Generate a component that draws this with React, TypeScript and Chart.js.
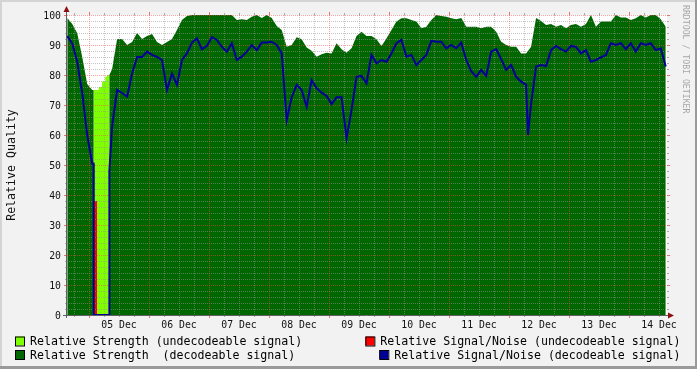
import React, { useEffect, useRef } from "react";
import { Chart, registerables } from "chart.js";

Chart.register(...registerables);

const W = 697;
const H = 369;

// time axis: hours since 04 Dec 00:00
const X_MIN = 15.2;
const X_MAX = 255.2;
const START_HOUR = 15.3;
const STEP_HOURS = 1.995;

const DAY_LABELS = ["05 Dec", "06 Dec", "07 Dec", "08 Dec", "09 Dec", "10 Dec", "11 Dec", "12 Dec", "13 Dec", "14 Dec"];
const DAY_LABEL_HOURS = [36, 60, 84, 108, 132, 156, 180, 204, 228, 252];
const Y_TICKS = [0, 10, 20, 30, 40, 50, 60, 70, 80, 90, 100];

// Relative Strength (decodeable signal), regular samples
const strengthDecodeable = [
  99, 97, 93.9, 86, 77, 75, 0, 0, 0, 82,
  92, 92, 90, 91, 94, 92, 93, 93.7, 91, 90,
  91, 92, 95, 98.3, 99.7, 100, 100, 100, 100, 100,
  100, 100, 100, 100, 98.3, 98.6, 98.3, 99.4, 100, 99,
  100, 99, 96.3, 95, 89.4, 90, 92.6, 91.9, 89.2, 88.1,
  86.1, 86.9, 87.4, 87.2, 90.6, 88.6, 87.4, 88.9, 93, 94.4,
  93, 93, 91.9, 89.7, 92.2, 95, 97.8, 98.9, 98.9, 98.3,
  97.8, 95.6, 96.1, 98.3, 100, 99.7, 99.4, 98.9, 98.6, 99,
  96.1, 96.1, 96.1, 95.6, 96.1, 96.1, 94.4, 91.1, 90, 89.4,
  89.4, 87.2, 87.2, 89.4, 99, 98, 96.7, 97, 96.1, 96.7,
  95.6, 96.7, 97, 96.1, 97, 100, 96.1, 97.8, 97.8, 97.8,
  100, 99.2, 99.2, 98.3, 98.9, 100, 99.2, 100, 100, 98.6,
  96.1,
];

// Relative Signal/Noise (decodeable signal), regular samples
const snDecodeable = [
  93, 90.5, 84.4, 74, 60, 50.5, 0, 0, 0, 63,
  75, 74, 72.8, 80.5, 86, 86, 87.8, 86.7, 86, 85,
  75, 80.5, 76.7, 85, 87.2, 90.8, 92.2, 88.6, 89.7, 92.6,
  91.7, 89.4, 87.8, 90.6, 85, 86.1, 87.8, 90, 88.3, 90.8,
  90.8, 91.1, 90, 87.2, 65, 72.6, 76.7, 75, 69.4, 78.3,
  75.6, 74.1, 73, 70.3, 72.6, 72.6, 58.9, 68.3, 79.4, 79.7,
  77.2, 86.7, 83.9, 85, 84.4, 87.2, 90.6, 91.7, 86.1, 86.7,
  83.3, 85, 86.7, 91.4, 91.1, 91.1, 88.9, 90, 88.9, 90.8,
  85, 81.3, 79.4, 81.7, 79.7, 87.8, 88.6, 85.3, 81.7, 83.3,
  79.4, 77.8, 76.7, 70.5, 82.8, 83.3, 83, 88.3, 89.7, 88.6,
  87.8, 89.7, 89.4, 87.2, 88.3, 84.4, 85, 85.9, 86.7, 90.6,
  90, 90.6, 88.6, 90.6, 87.8, 90.6, 90, 90.6, 88.3, 88.9,
  82.8,
];

// edges of the undecodeable period
const gapHours = [25.85, 25.9, 32.1, 32.15];
const gapStrength = [75, 0, 0, 80];
const gapSn = [50.5, 0, 0, 48];
const dipHours = [199.6];
const dipSn = [60];

// Relative Strength (undecodeable signal)
const undecStrengthHours = [25.9, 27.9, 29.2, 30.5, 31.2, 32.12];
const undecStrength = [75, 76, 77.8, 79.4, 80, 80];
// Relative Signal/Noise (undecodeable signal)
const undecSnHours = [25.9, 27.2];
const undecSn = [38, 38];

const C_STRENGTH_UNDEC = "#80ff00";
const C_STRENGTH_DEC = "#006600";
const C_SN_UNDEC = "#ff0000";
const C_SN_DEC = "#000099";

const MONO = '"DejaVu Sans Mono", monospace';

function regular(values: number[], extraH: number[], extraV: number[]) {
  const pts = values.map((v, i) => ({ x: START_HOUR + i * STEP_HOURS, y: v }));
  extraH.forEach((h, j) => pts.push({ x: h, y: extraV[j] }));
  pts.sort((a, b) => a.x - b.x);
  return pts;
}
function pairs(hours: number[], values: number[]) {
  return hours.map((h, i) => ({ x: h, y: values[i] }));
}

const decor = {
  id: "rrdDecor",
  beforeDraw(chart: any) {
    const ctx = chart.ctx as CanvasRenderingContext2D;
    const a = chart.chartArea;
    ctx.save();
    ctx.fillStyle = "#f2f2f2";
    ctx.fillRect(0, 0, W, H);
    ctx.fillStyle = "#ffffff";
    ctx.fillRect(a.left, a.top, a.right - a.left, a.bottom - a.top);
    ctx.restore();
  },
  beforeDatasetDraw(chart: any, args: any) {
    if (args.index !== 0) return;
    const ctx = chart.ctx as CanvasRenderingContext2D;
    const xs = chart.scales.x;
    const ys = chart.scales.y;
    const a = chart.chartArea;
    ctx.save();
    ctx.lineWidth = 1;
    ctx.setLineDash([1, 1]);
    // minor grid
    ctx.strokeStyle = "rgba(150,150,150,0.55)";
    ctx.beginPath();
    for (let v = 2; v < 100; v += 2) {
      if (v % 10 === 0) continue;
      const y = Math.round(ys.getPixelForValue(v)) + 0.5;
      ctx.moveTo(a.left, y);
      ctx.lineTo(a.right, y);
    }
    for (let h = 18; h < X_MAX; h += 6) {
      if (h % 24 === 0) continue;
      const x = Math.round(xs.getPixelForValue(h)) + 0.5;
      ctx.moveTo(x, a.top);
      ctx.lineTo(x, a.bottom);
    }
    ctx.stroke();
    // major grid
    ctx.strokeStyle = "rgba(255,70,70,0.5)";
    ctx.beginPath();
    for (const v of Y_TICKS) {
      if (v === 0) continue;
      const y = Math.round(ys.getPixelForValue(v)) + 0.5;
      ctx.moveTo(a.left, y);
      ctx.lineTo(a.right, y);
    }
    for (let h = 24; h < X_MAX; h += 24) {
      const x = Math.round(xs.getPixelForValue(h)) + 0.5;
      ctx.moveTo(x, a.top);
      ctx.lineTo(x, a.bottom);
    }
    ctx.stroke();
    ctx.restore();
  },
  afterDatasetsDraw(chart: any) {
    const ctx = chart.ctx as CanvasRenderingContext2D;
    const xs = chart.scales.x;
    const ys = chart.scales.y;
    const a = chart.chartArea;
    ctx.save();
    ctx.setLineDash([]);
    ctx.lineWidth = 1;

    // ticks
    ctx.strokeStyle = "rgba(150,150,150,0.8)";
    ctx.beginPath();
    for (let v = 2; v < 100; v += 2) {
      if (v % 10 === 0) continue;
      const y = Math.round(ys.getPixelForValue(v)) + 0.5;
      ctx.moveTo(a.left - 2, y);
      ctx.lineTo(a.left, y);
      ctx.moveTo(a.right, y);
      ctx.lineTo(a.right + 2, y);
    }
    for (let h = 18; h < X_MAX; h += 6) {
      if (h % 24 === 0) continue;
      const x = Math.round(xs.getPixelForValue(h)) + 0.5;
      ctx.moveTo(x, a.bottom);
      ctx.lineTo(x, a.bottom + 2);
      ctx.moveTo(x, a.top - 2);
      ctx.lineTo(x, a.top);
    }
    ctx.stroke();
    ctx.strokeStyle = "rgba(230,80,80,0.8)";
    ctx.beginPath();
    for (const v of Y_TICKS) {
      const y = Math.round(ys.getPixelForValue(v)) + 0.5;
      ctx.moveTo(a.left - 3, y);
      ctx.lineTo(a.left, y);
      ctx.moveTo(a.right, y);
      ctx.lineTo(a.right + 3, y);
    }
    for (let h = 24; h < X_MAX; h += 24) {
      const x = Math.round(xs.getPixelForValue(h)) + 0.5;
      ctx.moveTo(x, a.bottom);
      ctx.lineTo(x, a.bottom + 3);
      ctx.moveTo(x, a.top - 3);
      ctx.lineTo(x, a.top);
    }
    ctx.stroke();

    // axes
    ctx.strokeStyle = "#606060";
    ctx.beginPath();
    ctx.moveTo(a.left - 0.5, a.bottom + 3);
    ctx.lineTo(a.left - 0.5, a.top - 6);
    ctx.moveTo(a.left - 4, a.bottom + 0.5);
    ctx.lineTo(a.right + 3, a.bottom + 0.5);
    ctx.stroke();
    ctx.fillStyle = "#8b1010";
    ctx.beginPath();
    ctx.moveTo(a.left - 0.5, a.top - 9);
    ctx.lineTo(a.left - 3.5, a.top - 3);
    ctx.lineTo(a.left + 2.5, a.top - 3);
    ctx.closePath();
    ctx.fill();
    ctx.beginPath();
    ctx.moveTo(a.right + 7, a.bottom + 0.5);
    ctx.lineTo(a.right + 1, a.bottom - 2.5);
    ctx.lineTo(a.right + 1, a.bottom + 3.5);
    ctx.closePath();
    ctx.fill();

    // y labels
    ctx.fillStyle = "#111";
    ctx.font = `9.8px ${MONO}`;
    ctx.textAlign = "right";
    ctx.textBaseline = "middle";
    for (const v of Y_TICKS) {
      ctx.fillText(String(v), a.left - 6, ys.getPixelForValue(v) + 1);
    }
    // x labels
    ctx.textAlign = "center";
    DAY_LABELS.forEach((lab, i) => {
      ctx.fillText(lab, xs.getPixelForValue(DAY_LABEL_HOURS[i]), a.bottom + 10);
    });

    // y title
    ctx.save();
    ctx.font = `11.6px ${MONO}`;
    ctx.translate(12, 165);
    ctx.rotate(-Math.PI / 2);
    ctx.textAlign = "center";
    ctx.textBaseline = "middle";
    ctx.fillText("Relative Quality", 0, 0);
    ctx.restore();

    // watermark
    ctx.save();
    ctx.font = `8.2px ${MONO}`;
    ctx.fillStyle = "rgba(0,0,0,0.33)";
    ctx.translate(685, 5);
    ctx.rotate(Math.PI / 2);
    ctx.textAlign = "left";
    ctx.textBaseline = "middle";
    ctx.fillText("RRDTOOL / TOBI OETIKER", 0, 0);
    ctx.restore();

    // legend
    ctx.font = `11.6px ${MONO}`;
    ctx.textBaseline = "middle";
    const box = (x: number, y: number, c: string) => {
      ctx.fillStyle = c;
      ctx.fillRect(x, y, 9, 9);
      ctx.strokeStyle = "#000";
      ctx.lineWidth = 1;
      ctx.strokeRect(x + 0.5, y + 0.5, 9, 9);
    };
    const items = chart.data.datasets;
    // left column
    const leftEntries = [items[3], items[2]];
    leftEntries.forEach((ds: any, r: number) => {
      const cy = 341.5 + r * 13.5;
      box(15, cy - 5, ds.backgroundColor);
      ctx.fillStyle = "#000";
      ctx.textAlign = "left";
      ctx.fillText(ds.label, 30, cy + 0.5);
    });
    const rightEntries = [items[1], items[0]];
    rightEntries.forEach((ds: any, r: number) => {
      const cy = 341.5 + r * 13.5;
      const tw = ctx.measureText(ds.label).width;
      const tx = 680.5 - tw;
      box(tx - 15, cy - 5, ds.legendColor || ds.borderColor);
      ctx.fillStyle = "#000";
      ctx.textAlign = "left";
      ctx.fillText(ds.label, tx, cy + 0.5);
    });

    // frame
    ctx.fillStyle = "#d4d4d4";
    ctx.fillRect(0, 0, W, 2);
    ctx.fillRect(0, 0, 2, H);
    ctx.fillStyle = "#9a9a9a";
    ctx.fillRect(0, H - 3, W, 3);
    ctx.fillRect(W - 2, 0, 2, H);
    ctx.restore();
  },
};

export default function App() {
  const ref = useRef<HTMLCanvasElement | null>(null);
  useEffect(() => {
    if (!ref.current) return;
    const chart = new Chart(ref.current, {
      type: "line",
      data: {
        datasets: [
          {
            label: "Relative Signal/Noise (decodeable signal)",
            data: regular(snDecodeable, [...gapHours, ...dipHours], [...gapSn, ...dipSn]),
            borderColor: C_SN_DEC,
            backgroundColor: C_SN_DEC,
            borderWidth: 2,
            pointRadius: 0,
            fill: false,
            order: 0,
          } as any,
          {
            label: "Relative Signal/Noise (undecodeable signal)",
            data: pairs(undecSnHours, undecSn),
            borderColor: "rgba(0,0,0,0)",
            backgroundColor: C_SN_UNDEC,
            legendColor: C_SN_UNDEC,
            borderWidth: 0,
            pointRadius: 0,
            fill: "origin",
            stepped: true,
            order: 1,
          } as any,
          {
            label: "Relative Strength  (decodeable signal)",
            data: regular(strengthDecodeable, gapHours, gapStrength),
            borderColor: "rgba(0,0,0,0)",
            backgroundColor: C_STRENGTH_DEC,
            borderWidth: 0,
            pointRadius: 0,
            fill: "origin",
            order: 3,
          } as any,
          {
            label: "Relative Strength (undecodeable signal)",
            data: pairs(undecStrengthHours, undecStrength),
            borderColor: "rgba(0,0,0,0)",
            backgroundColor: C_STRENGTH_UNDEC,
            borderWidth: 0,
            pointRadius: 0,
            fill: "origin",
            stepped: true,
            order: 2,
          } as any,
        ],
      },
      options: {
        animation: false,
        responsive: false,
        events: [],
        layout: { padding: { left: 67, top: 15, right: 30, bottom: 54 } },
        scales: {
          x: { type: "linear", min: X_MIN, max: X_MAX, display: false },
          y: { type: "linear", min: 0, max: 100, display: false },
        },
        plugins: { legend: { display: false }, tooltip: { enabled: false } },
      },
      plugins: [decor as any],
    });
    return () => chart.destroy();
  }, []);
  return (
    <div style={{ position: "absolute", left: 0, top: 0, width: W, height: H }}>
      <canvas ref={ref} width={W} height={H} style={{ display: "block" }} />
    </div>
  );
}
